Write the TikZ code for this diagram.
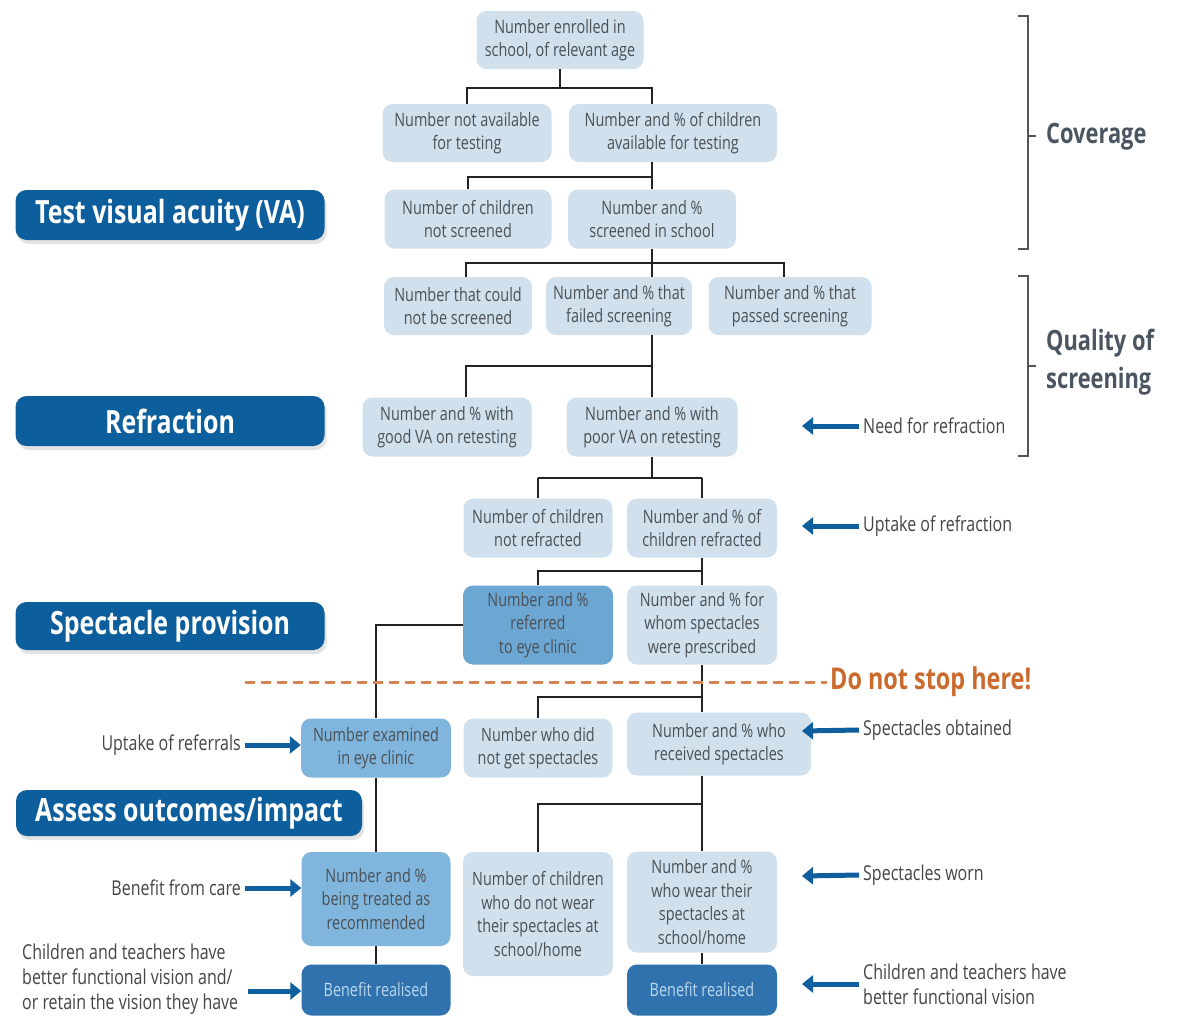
\documentclass[tikz,border=0pt]{standalone}
\usepackage{fontspec}
\setmainfont{Open Sans}[FakeStretch=0.78]
\usetikzlibrary{arrows.meta,shadows}
\definecolor{lbox}{HTML}{D0E1ED}
\definecolor{mbox}{HTML}{6CA7D3}
\definecolor{rbox}{HTML}{80B6DD}
\definecolor{dbox}{HTML}{2F72AD}
\definecolor{dtxt}{HTML}{BCD8F0}
\definecolor{hblue}{HTML}{0D5E9C}
\definecolor{txt}{HTML}{4B5055}
\definecolor{ltxt}{HTML}{444444}
\definecolor{lnc}{HTML}{222222}
\definecolor{ablue}{HTML}{0F5F9E}
\definecolor{brk}{HTML}{555555}
\definecolor{btxt}{HTML}{4A5561}
\definecolor{orng}{HTML}{CB6A2D}
\definecolor{dorng}{HTML}{D58553}
\tikzset{
  bx/.style={rounded corners=10pt, align=center, text=txt, font=\fontsize{18.5}{23.5}\selectfont, inner sep=0pt},
  lb/.style={bx, fill=lbox},
  mb/.style={bx, fill=mbox},
  rb/.style={bx, fill=rbox},
  db/.style={bx, fill=dbox, text=dtxt},
  hd/.style={rounded corners=11pt, fill=hblue, text=white, font=\fontsize{32}{36}\selectfont\bfseries, inner sep=0pt,
     drop shadow={opacity=0.22, shadow xshift=2pt, shadow yshift=-4pt}},
  ln/.style={line width=2pt, draw=lnc},
  barrow/.style={line width=5pt, draw=ablue, -{Triangle[length=11pt,width=17pt]}},
  lab/.style={font=\fontsize{20.5}{25}\selectfont, text=ltxt, inner sep=0pt},
  brlab/.style={font=\fontsize{28}{38}\selectfont\bfseries, text=btxt, inner sep=0pt, align=left},
  brack/.style={line width=1.6pt, draw=brk}
}
\begin{document}
\begin{tikzpicture}[x=1pt,y=-1pt]
\useasboundingbox[fill=white] (0,0) rectangle (1181,1017);

% headers
\node[hd, minimum width=309, minimum height=50] (h1) at (170,215) {Test visual acuity (VA)};
\node[hd, minimum width=309, minimum height=50] (h2) at (170,421) {Refraction};
\node[hd, minimum width=309, minimum height=48] (h3) at (170,626) {Spectacle provision};
\node[hd, minimum width=346, minimum height=46] (h4) at (189,813) {Assess outcomes/impact};

% boxes
\node[lb, minimum width=167, minimum height=58] (n1) at (560,40) {Number enrolled in\\school, of relevant age};
\node[lb, minimum width=169, minimum height=58] (n2) at (467,133) {Number not available\\for testing};
\node[lb, minimum width=208, minimum height=58] (n3) at (673,133) {Number and \% of children\\available for testing};
\node[lb, minimum width=167, minimum height=59] (n4) at (468,219) {Number of children\\not screened};
\node[lb, minimum width=168, minimum height=59] (n5) at (652,219) {Number and \%\\screened in school};
\node[lb, minimum width=148, minimum height=58] (n6) at (458,306) {Number that could\\not be screened};
\node[lb, minimum width=146, minimum height=58] (n7) at (619,306) {Number and \% that\\failed screening};
\node[lb, minimum width=163, minimum height=58] (n8) at (790,306) {Number and \% that\\passed screening};
\node[lb, minimum width=169, minimum height=59] (n9) at (447,427) {Number and \% with\\good VA on retesting};
\node[lb, minimum width=171, minimum height=59] (n10) at (652,427) {Number and \% with\\poor VA on retesting};
\node[lb, minimum width=149, minimum height=59] (n11) at (538,528) {Number of children\\not refracted};
\node[lb, minimum width=150, minimum height=59] (n12) at (702,528) {Number and \% of\\children refracted};
\node[mb, minimum width=150, minimum height=79] (n13) at (538,625) {Number and \%\\referred\\to eye clinic};
\node[lb, minimum width=150, minimum height=79] (n14) at (702,625) {Number and \% for\\whom spectacles\\were prescribed};
\node[rb, minimum width=150, minimum height=59] (n15) at (376,748) {Number examined\\in eye clinic};
\node[lb, minimum width=149, minimum height=59] (n16) at (538,748) {Number who did\\not get spectacles};
\node[lb, minimum width=184, minimum height=63] (n17) at (719,744) {Number and \% who\\received spectacles};
\node[rb, minimum width=149, minimum height=94] (n18) at (376,899) {Number and \%\\being treated as\\recommended};
\node[lb, minimum width=150, minimum height=124] (n19) at (538,914) {Number of children\\who do not wear\\their spectacles at\\school/home};
\node[lb, minimum width=150, minimum height=101] (n20) at (702,902) {Number and \%\\who wear their\\spectacles at\\school/home};
\node[db, minimum width=149, minimum height=51] (n21) at (376,990) {Benefit realised};
\node[db, minimum width=150, minimum height=51] (n22) at (702,990) {Benefit realised};

% junctions
\coordinate (xa) at (466,0);
\coordinate (xt) at (652,0);
\coordinate (j1) at (560,88);
\coordinate (j2) at (652,177);
\coordinate (j3) at (652,263);
\coordinate (j4) at (652,366);
\coordinate (j5) at (652,478);
\coordinate (j5a) at (538,478);
\coordinate (j5b) at (702,478);
\coordinate (j6) at (702,571);
\coordinate (j7) at (702,697);
\coordinate (j8) at (702,804);
\coordinate (xr) at (784,0);

\draw[ln] (n1.south) -- (j1);
\draw[ln] (j1) -| (n2.north);
\draw[ln] (j1) -| (n3.north -| xt);
\draw[ln] (n3.south -| xt) -- (j2);
\draw[ln] (j2) -| (n4.north);
\draw[ln] (j2) -- (n5.north);
\draw[ln] (n5.south) -- (j3);
\draw[ln] (j3) -| (n6.north -| xa);
\draw[ln] (j3) -- (n7.north -| xt);
\draw[ln] (j3) -| (n8.north -| xr);
\draw[ln] (n7.south -| xt) -- (j4);
\draw[ln] (j4) -| (n9.north -| xa);
\draw[ln] (j4) -- (n10.north);
\draw[ln] (n10.south) -- (j5);
\draw[ln] (j5a) -- (j5b);
\draw[ln] (j5a) -- (n11.north);
\draw[ln] (j5b) -- (n12.north);
\draw[ln] (n12.south) -- (j6);
\draw[ln] (j6) -| (n13.north);
\draw[ln] (j6) -- (n14.north);
\draw[ln] (n13.west) -| (n15.north);
\draw[ln] (n14.south) -- (j7);
\draw[ln] (j7) -| (n16.north);
\draw[ln] (j7) -- (n17.north -| j7);
\draw[ln] (n17.south -| j8) -- (j8);
\draw[ln] (j8) -| (n19.north);
\draw[ln] (j8) -- (n20.north);
\draw[ln] (n15.south) -- (n18.north);
\draw[ln] (n18.south) -- (n21.north);
\draw[ln] (n20.south) -- (n22.north);

% do not stop here
\node[font=\fontsize{30}{34}\selectfont\bfseries, text=orng, anchor=west, inner sep=0pt] (dns) at (830,682) {Do not stop here!};
\coordinate (ds) at (245,682);
\draw[dorng, line width=3pt, dash pattern=on 10pt off 6pt] (ds) -- ([xshift=-3pt]dns.west);

% brackets
\draw[brack] (1018,16) -- (1028,16) -- (1028,249) -- (1018,249);
\draw[brack] (1028,136) -- (1036,136);
\draw[brack] (1018,276) -- (1028,276) -- (1028,456) -- (1018,456);
\draw[brack] (1028,366) -- (1036,366);
\node[brlab, anchor=west] (cov) at (1046,137) {Coverage};
\node[brlab, anchor=west] (qual) at (1046,362) {Quality of\\screening};

% right labels and arrows
\node[lab, anchor=west] (r1) at (863,426) {Need for refraction};
\node[lab, anchor=west] (r2) at (863,526) {Uptake of refraction};
\node[lab, anchor=west] (r3) at (863,730) {Spectacles obtained};
\node[lab, anchor=west] (r4) at (863,875) {Spectacles worn};
\node[lab, anchor=west, align=left] (r5) at (863,984) {Children and teachers have\\better functional vision};
\coordinate (a1) at (802,426);
\coordinate (a2) at (802,526);
\coordinate (a3) at (802,731);
\coordinate (a4) at (802,876);
\coordinate (a5) at (802,984);
\draw[barrow] ([xshift=-4pt]r1.west) -- (a1);
\draw[barrow] ([xshift=-4pt]r2.west) -- (a2);
\draw[barrow] ([xshift=-4pt]r3.west) -- (a3);
\draw[barrow] ([xshift=-4pt]r4.west) -- (a4);
\draw[barrow] ([xshift=-4pt]r5.west) -- (a5);

% left labels and arrows
\node[lab, anchor=east] (l1) at (241,745) {Uptake of referrals};
\node[lab, anchor=east] (l2) at (241,888) {Benefit from care};
\node[lab, anchor=west, align=left] (l3) at (22,979) {Children and teachers have\\better functional vision and/\\or retain the vision they have};
\coordinate (t3) at (248,991);
\draw[barrow] ([xshift=4pt]l1.east) -- (l1.east -| n15.west);
\draw[barrow] ([xshift=4pt]l2.east) -- (l2.east -| n18.west);
\draw[barrow] (t3) -- (t3 -| n21.west);
\end{tikzpicture}
\end{document}
